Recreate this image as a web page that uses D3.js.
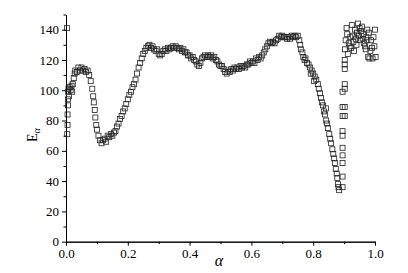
<!DOCTYPE html>
<html>
<head>
<meta charset="utf-8">
<script src="https://cdn.jsdelivr.net/npm/d3@7"></script>
<style>
  body { margin: 0; background: #fff; }
  svg { display: block; }
  .tick text { font-family: "Times New Roman", "Liberation Serif", serif; font-size: 13px; fill: #000; }
  .axisText { font-family: "Times New Roman", "Liberation Serif", serif; fill: #000; }
</style>
</head>
<body>
<div id="chart"></div>
<script>
// data: [alpha, E_alpha]
let mainCurve = [
  [0.003, 141], [0.004, 71], [0.005, 77], [0.005, 84], [0.006, 90], [0.006, 94], [0.007, 99], [0.008, 101],
  [0.010, 96], [0.012, 102], [0.015, 100], [0.018, 103], [0.020, 99], [0.022, 104], [0.025, 108], [0.028, 111],
  [0.030, 113], [0.035, 112], [0.040, 115], [0.045, 113], [0.050, 115], [0.055, 113], [0.060, 114], [0.065, 112],
  [0.070, 113], [0.075, 110], [0.080, 106], [0.085, 101], [0.088, 96], [0.090, 92], [0.093, 87], [0.095, 82],
  [0.098, 77], [0.100, 74], [0.105, 70], [0.110, 67], [0.115, 65], [0.120, 67], [0.125, 68], [0.130, 66],
  [0.135, 70], [0.140, 69], [0.145, 71], [0.150, 70], [0.155, 72], [0.160, 73], [0.165, 76], [0.170, 78],
  [0.175, 81], [0.180, 83], [0.185, 86], [0.190, 88], [0.195, 91], [0.200, 94], [0.205, 97], [0.210, 99],
  [0.215, 102], [0.220, 104], [0.225, 107], [0.230, 111], [0.235, 115], [0.240, 118], [0.245, 121], [0.250, 124],
  [0.255, 126], [0.260, 128], [0.265, 129], [0.270, 130], [0.275, 128], [0.280, 129], [0.285, 127], [0.290, 126],
  [0.295, 127], [0.300, 124], [0.305, 123], [0.310, 124], [0.315, 126], [0.320, 127], [0.325, 126], [0.330, 128],
  [0.335, 127], [0.340, 128], [0.345, 129], [0.350, 128], [0.355, 129], [0.360, 128], [0.365, 127], [0.370, 128],
  [0.375, 126], [0.380, 127], [0.385, 125], [0.390, 125], [0.395, 123], [0.400, 123], [0.405, 121], [0.410, 122],
  [0.415, 120], [0.420, 119], [0.425, 117], [0.430, 116], [0.435, 118], [0.440, 121], [0.445, 122], [0.450, 123],
  [0.455, 122], [0.460, 123], [0.465, 122], [0.470, 123], [0.475, 121], [0.480, 122], [0.485, 120], [0.490, 119],
  [0.495, 117], [0.500, 116], [0.505, 116], [0.510, 114], [0.515, 112], [0.520, 111], [0.525, 113], [0.530, 112],
  [0.535, 114], [0.540, 113], [0.545, 115], [0.550, 114], [0.555, 115], [0.560, 114], [0.565, 116], [0.570, 115],
  [0.575, 116], [0.580, 115], [0.585, 117], [0.590, 117], [0.595, 119], [0.600, 118], [0.605, 119], [0.610, 118],
  [0.615, 121], [0.620, 120], [0.625, 122], [0.630, 121], [0.635, 123], [0.640, 125], [0.645, 127], [0.650, 129],
  [0.655, 131], [0.660, 132], [0.665, 131], [0.670, 132], [0.675, 131], [0.680, 133], [0.685, 134], [0.690, 136],
  [0.695, 135], [0.700, 136], [0.705, 135], [0.710, 135], [0.715, 134], [0.720, 135], [0.725, 134], [0.730, 136],
  [0.735, 135], [0.740, 136], [0.745, 135], [0.750, 136], [0.755, 133], [0.758, 130], [0.760, 127], [0.765, 125],
  [0.768, 122], [0.772, 120], [0.775, 121], [0.780, 118], [0.785, 117], [0.790, 115], [0.792, 111], [0.795, 113],
  [0.800, 111], [0.803, 106], [0.805, 109], [0.810, 107], [0.815, 104], [0.818, 101], [0.822, 98], [0.825, 95],
  [0.828, 92], [0.832, 90], [0.835, 86], [0.838, 84], [0.841, 88], [0.842, 80], [0.845, 78], [0.848, 75],
  [0.852, 71], [0.855, 68], [0.858, 65], [0.862, 61], [0.865, 58], [0.868, 55], [0.870, 52], [0.873, 48],
  [0.876, 45], [0.878, 42], [0.880, 38], [0.882, 36], [0.884, 34]
];

// scattered column near alpha = 0.9
let columnPts = [
  [0.895, 99], [0.895, 89], [0.895, 83], [0.895, 73], [0.895, 70], [0.895, 62], [0.895, 57], [0.895, 52],
  [0.895, 43], [0.895, 36], [0.902, 120], [0.902, 117], [0.902, 114], [0.902, 104], [0.902, 101], [0.902, 89],
  [0.902, 83]
];

// cluster at the right end
let clusterPts = [
  [0.903, 127], [0.905, 133], [0.908, 141], [0.910, 137], [0.912, 124], [0.915, 131], [0.918, 129], [0.920, 135],
  [0.923, 128], [0.925, 143], [0.928, 136], [0.930, 132], [0.932, 126], [0.935, 140], [0.938, 134], [0.940, 130],
  [0.942, 138], [0.945, 144], [0.948, 136], [0.950, 141], [0.952, 133], [0.955, 139], [0.958, 142], [0.960, 134],
  [0.962, 137], [0.965, 131], [0.968, 129], [0.970, 127], [0.972, 135], [0.975, 140], [0.975, 133], [0.978, 122],
  [0.980, 138], [0.982, 121], [0.985, 126], [0.987, 133], [0.990, 128], [0.992, 121], [0.995, 135], [0.998, 129],
  [1.000, 140], [1.002, 122]
];

// tick values
let xMajorTicks = [0, 0.2, 0.4, 0.6, 0.8, 1.0];
let xMinorTicks = [0.1, 0.3, 0.5, 0.7, 0.9];
let yMajorTicks = [0, 20, 40, 60, 80, 100, 120, 140];
let yMinorTicks = [10, 30, 50, 70, 90, 110, 130, 150];

// SVG size
let width = 408;
let height = 273;

// chart margins
let margin = {
  top: 14.5,
  right: 33,
  bottom: 31.3,
  left: 66
};

let intActiveWid = width - margin.left - margin.right;
let intActiveHgt = height - margin.top - margin.bottom;

let svg = d3.select("#chart")
  .append("svg")
  .attr("width", width)
  .attr("height", height);

let g = svg.append("g")
  .attr("transform", `translate(${margin.left}, ${margin.top})`);

// scales
let fnXScale = d3.scaleLinear()
  .domain([0, 1])
  .range([0, intActiveWid]);

let fnYScale = d3.scaleLinear()
  .domain([0, 150])
  .range([intActiveHgt, 0]);

// minor ticks first, then major with labels
g.append("g")
  .attr("transform", `translate(0, ${intActiveHgt})`)
  .call(d3.axisBottom(fnXScale).tickValues(xMinorTicks).tickSize(2.5).tickSizeOuter(0).tickFormat(""));
g.append("g")
  .attr("transform", `translate(0, ${intActiveHgt})`)
  .call(d3.axisBottom(fnXScale).tickValues(xMajorTicks).tickSize(4).tickSizeOuter(0).tickPadding(3)
    .tickFormat(d3.format(".1f")));

g.append("g")
  .call(d3.axisLeft(fnYScale).tickValues(yMinorTicks).tickSize(2.5).tickSizeOuter(0).tickFormat(""));
g.append("g")
  .call(d3.axisLeft(fnYScale).tickValues(yMajorTicks).tickSize(4).tickSizeOuter(0).tickPadding(3)
    .tickFormat(d3.format("d")));

g.selectAll(".domain").attr("stroke", "#000").attr("stroke-width", 1);
g.selectAll(".tick line").attr("stroke", "#000");

// square markers
let allPts = mainCurve.concat(columnPts, clusterPts);
let sq = 5;
g.selectAll("rect.pt")
  .data(allPts)
  .enter()
  .append("rect")
  .attr("class", "pt")
  .attr("x", d => fnXScale(d[0]) - sq / 2)
  .attr("y", d => fnYScale(d[1]) - sq / 2)
  .attr("width", sq)
  .attr("height", sq)
  .attr("fill", "none")
  .attr("stroke", "#222")
  .attr("stroke-width", 0.8);

// axis titles
let yTitle = svg.append("text")
  .attr("class", "axisText")
  .attr("transform", `translate(37, 142) rotate(-90)`)
  .attr("font-size", 14);
yTitle.append("tspan").text("E");
yTitle.append("tspan").attr("font-size", 10).attr("font-style", "italic").attr("dy", 3).text("α");

svg.append("text")
  .attr("class", "axisText")
  .attr("x", 219)
  .attr("y", 266)
  .attr("text-anchor", "middle")
  .attr("font-size", 16)
  .attr("font-style", "italic")
  .text("α");
</script>
</body>
</html>
